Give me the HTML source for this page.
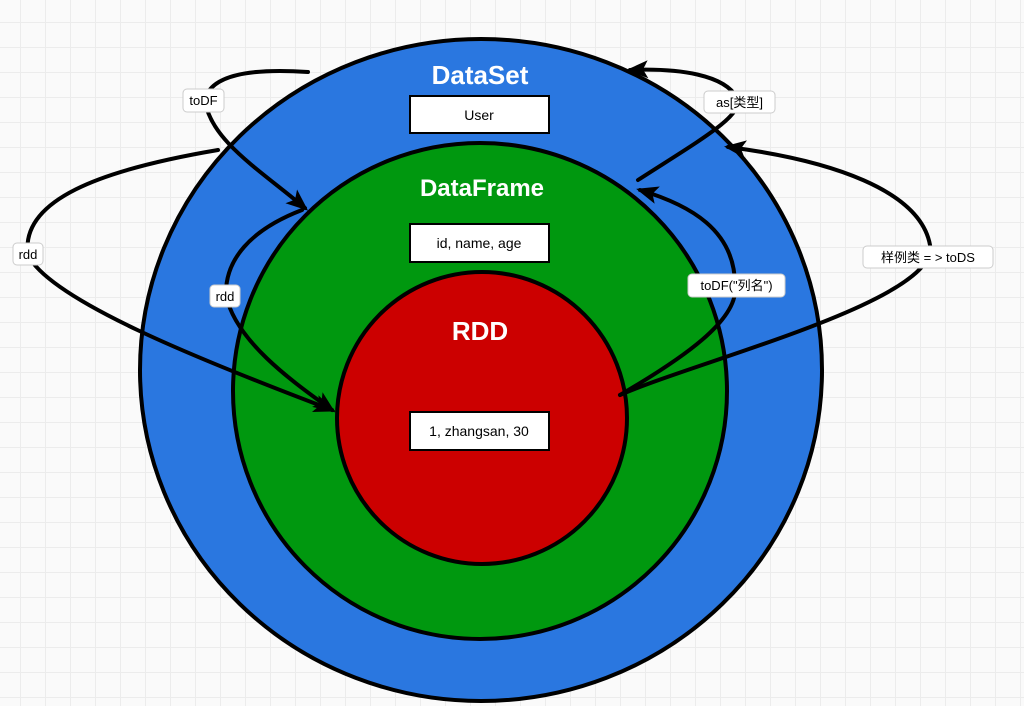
<!DOCTYPE html>
<html><head><meta charset="utf-8"><style>
html,body{margin:0;padding:0;}
body{width:1024px;height:706px;overflow:hidden;background:#fafafa;
background-image:linear-gradient(#ececec 1px,transparent 1px),linear-gradient(90deg,#ececec 1px,transparent 1px);
background-size:25px 25px;background-position:-5px -3px;}
svg{position:absolute;left:0;top:0;}
text{font-family:"Liberation Sans","Noto Sans CJK SC",sans-serif;}
</style></head><body>
<svg width="1024" height="706" viewBox="0 0 1024 706">
<defs><marker id="a" markerWidth="10" markerHeight="10" refX="8" refY="5" orient="auto" markerUnits="userSpaceOnUse" viewBox="0 0 10 10"><path d="M0,0 L10,5 L0,10 L3,5 Z" fill="#000"/></marker>
<marker id="b" markerWidth="22" markerHeight="22" refX="18" refY="11" orient="auto" markerUnits="userSpaceOnUse" viewBox="0 0 22 22"><path d="M0,2 L22,11 L0,20 L5,11 Z" fill="#000"/></marker></defs>
<ellipse cx="481" cy="370" rx="341" ry="331" fill="#2a77e0" stroke="#000" stroke-width="4"/>
<ellipse cx="480" cy="391" rx="247" ry="248" fill="#00980f" stroke="#000" stroke-width="4"/>
<ellipse cx="482" cy="418" rx="145" ry="146" fill="#cc0000" stroke="#000" stroke-width="4"/>
<text x="480" y="84" font-size="26" font-weight="bold" fill="#fff" text-anchor="middle">DataSet</text>
<text x="482" y="196" font-size="24" font-weight="bold" fill="#fff" text-anchor="middle">DataFrame</text>
<text x="480" y="340" font-size="26" font-weight="bold" fill="#fff" text-anchor="middle">RDD</text>
<rect x="410" y="96" width="139" height="37" fill="#fff" stroke="#000" stroke-width="2"/>
<text x="479" y="120" font-size="14" text-anchor="middle">User</text>
<rect x="410" y="224" width="139" height="38" fill="#fff" stroke="#000" stroke-width="2"/>
<text x="479" y="248" font-size="14" text-anchor="middle">id, name, age</text>
<rect x="410" y="412" width="139" height="38" fill="#fff" stroke="#000" stroke-width="2"/>
<text x="479" y="436" font-size="14" text-anchor="middle">1, zhangsan, 30</text>
<g fill="none" stroke="#000" stroke-width="4" stroke-linecap="round">
<path d="M308,72 C250,68 210,75 205,100 C210,140 260,170 305,208" marker-end="url(#b)"/>
<path d="M218,150 C100,170 20,200 28,255 C50,300 200,360 332,410" marker-end="url(#b)"/>
<path d="M302,210 C250,230 225,260 226,295 C235,340 290,380 332,410" marker-end="url(#b)"/>
<path d="M638,180 C700,140 745,115 737,98 C725,75 680,68 630,70" marker-end="url(#b)"/>
<path d="M620,395 C680,360 740,320 735,285 C735,230 690,205 640,190" marker-end="url(#b)"/>
<path d="M620,395 C700,360 940,300 930,245 C920,190 830,160 728,147" marker-end="url(#b)"/>
</g>
<g font-size="13">
<rect x="183" y="89" width="41" height="23" rx="4" fill="#fff" stroke="#ccc"/><text x="203.5" y="105" text-anchor="middle">toDF</text>
<rect x="13" y="243" width="30" height="22" rx="4" fill="#fff" stroke="#ccc"/><text x="28" y="259" text-anchor="middle">rdd</text>
<rect x="210" y="285" width="30" height="22" rx="4" fill="#fff" stroke="#ccc"/><text x="225" y="301" text-anchor="middle">rdd</text>
<rect x="704" y="91" width="71" height="22" rx="4" fill="#fff" stroke="#ccc"/><text x="739.5" y="107" text-anchor="middle">as[类型]</text>
<rect x="863" y="246" width="130" height="22" rx="4" fill="#fff" stroke="#ccc"/><text x="928" y="262" text-anchor="middle">样例类 = &gt; toDS</text>
<rect x="688" y="274" width="97" height="23" rx="4" fill="#fff" stroke="#ccc"/><text x="736.5" y="290" text-anchor="middle">toDF("列名")</text>
</g>
</svg>
</body></html>
